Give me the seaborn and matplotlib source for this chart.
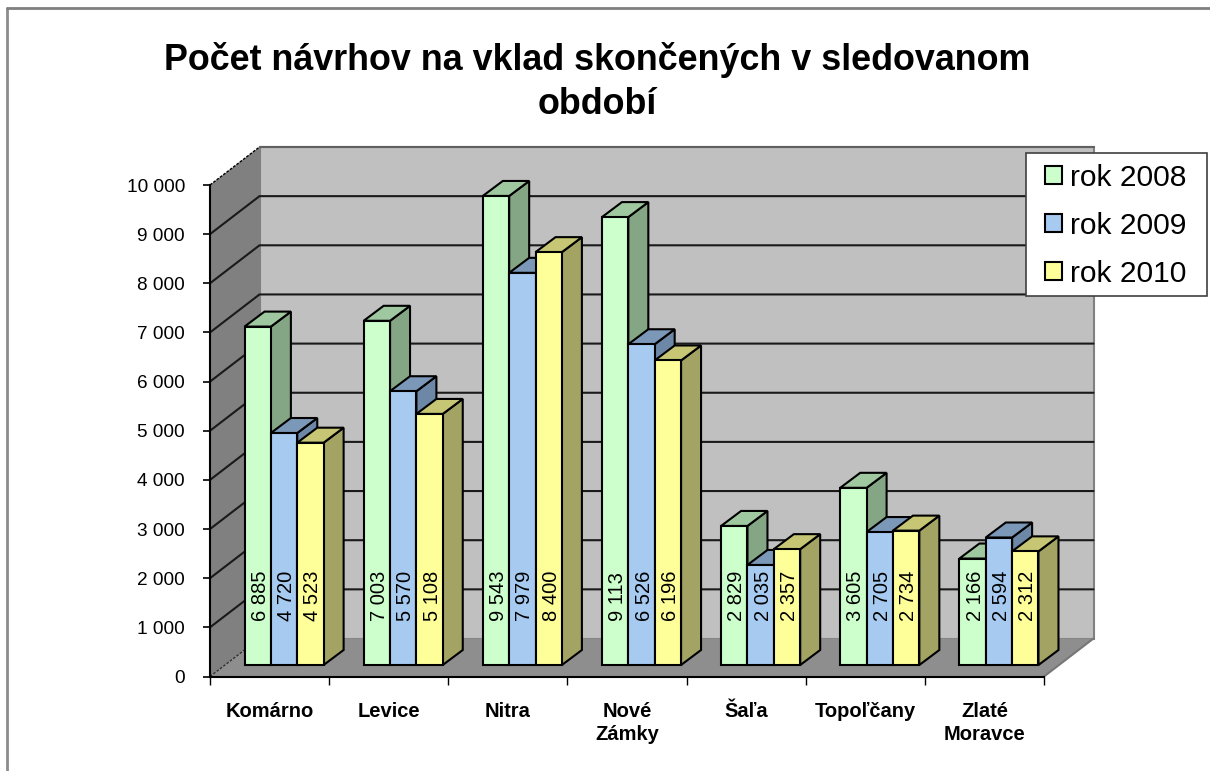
import matplotlib
matplotlib.use("Agg")
import matplotlib.pyplot as plt
from matplotlib.lines import Line2D
from matplotlib.patches import Patch, Polygon, Rectangle
import pandas as pd
import seaborn as sns

# Data
# ---------------------------------------------------------------------------
okresy = ["Komárno", "Levice", "Nitra", "Nové\nZámky", "Šaľa", "Topoľčany", "Zlaté\nMoravce"]
rok_2008 = [6885, 7003, 9543, 9113, 2829, 3605, 2166]
rok_2009 = [4720, 5570, 7979, 6526, 2035, 2705, 2594]
rok_2010 = [4523, 5108, 8400, 6196, 2357, 2734, 2312]
roky = ["rok 2008", "rok 2009", "rok 2010"]
y_ticks = [0, 1000, 2000, 3000, 4000, 5000, 6000, 7000, 8000, 9000, 10000]

FRONT = ["#CCFFCC", "#A6CAF0", "#FFFF99"]
TOP = ["#A0C8A0", "#7C98B8", "#C6C674"]
SIDE = ["#84A684", "#6C88A6", "#A3A364"]


def fmt(v):
    return f"{v:,}".replace(",", " ")


df = pd.DataFrame({
    "okres": okresy * 3,
    "pocet": rok_2008 + rok_2009 + rok_2010,
    "rok": [r for r in roky for _ in okresy],
})

W, H = 1210, 771
sns.set_theme(style="white")
plt.rcParams["font.family"] = ["Liberation Sans", "DejaVu Sans"]
plt.rcParams["text.color"] = "black"
plt.rcParams["xtick.labelcolor"] = "black"
plt.rcParams["ytick.labelcolor"] = "black"

fig = plt.figure(figsize=(W / 100, H / 100), dpi=100, facecolor="white")

# Front plane of the fake 3D box (axis ticks live here)
L, B, AW, AH = 210, 771 - 676.5, 834, 491.5
ax = fig.add_axes([L / W, B / H, AW / W, AH / H], zorder=1)
ax.set_xlim(-0.5, 6.5)
ax.set_ylim(0, 10000)
ax.patch.set_visible(False)

px_x = 7 / AW  # categories per pixel
px_y = 10000 / AH  # value per pixel
wx, wy = 49.5 * px_x, 38 * px_y  # depth of the whole box
x0, x1 = -0.5, 6.5

ax.add_patch(Polygon([(x0 + wx, wy), (x1 + wx, wy), (x1 + wx, 10000 + wy), (x0 + wx, 10000 + wy)],
                     closed=True, fc="#C0C0C0", ec="#808080", lw=1.5, clip_on=False, zorder=1))
ax.add_patch(Polygon([(x0, 0), (x0 + wx, wy), (x0 + wx, 10000 + wy), (x0, 10000)],
                     closed=True, fc="#808080", ec="none", clip_on=False, zorder=1))
ax.add_patch(Polygon([(x0, 0), (x1, 0), (x1 + wx, wy), (x0 + wx, wy)],
                     closed=True, fc="#8E8E8E", ec="none", clip_on=False, zorder=1))

for v in y_ticks[1:-1]:
    ax.plot([x0, x0 + wx, x1 + wx], [v, v + wy, v + wy], color="#1A1A1A", lw=1.5, clip_on=False, zorder=2)
ax.plot([x0 + wx, x1 + wx], [10000 + wy, 10000 + wy], color="#606060", lw=1.5, clip_on=False, zorder=2)
ax.plot([x0, x0 + wx], [10000, 10000 + wy], color="black", lw=1, ls=(0, (2, 1)), clip_on=False, zorder=2)
ax.plot([x0, x0 + wx], [0, wy], color="#333333", lw=1, ls=(0, (2, 1)), clip_on=False, zorder=2)
ax.plot([x1, x1 + wx], [0, wy], color="#777777", lw=1.5, clip_on=False, zorder=2)

for s in ["top", "right"]:
    ax.spines[s].set_visible(False)
for s in ["left", "bottom"]:
    ax.spines[s].set_color("black")
    ax.spines[s].set_linewidth(1.5)
    ax.spines[s].set_zorder(3)

ax.set_yticks(y_ticks)
ax.set_yticklabels([fmt(v) for v in y_ticks], fontsize=13.7)
ax.set_xticks([i - 0.5 for i in range(8)])
ax.set_xticklabels([])
ax.set_xticks(range(7), labels=okresy, minor=True, fontsize=14.5, fontweight="bold", linespacing=1.28)
ax.tick_params(axis="y", length=5, width=1.2, color="black", pad=13, left=True)
ax.tick_params(axis="x", which="major", length=6, width=1, color="black", bottom=True)
ax.tick_params(axis="x", which="minor", length=0, pad=18.5)
ax.set_xlabel("")
ax.set_ylabel("")

# Bars: same scale, moved into the box
bar_ax = fig.add_axes([(L + 14.5) / W, (B + 11.5) / H, AW / W, AH / H], zorder=2)
sns.barplot(data=df, x="okres", y="pocet", hue="rok", palette=FRONT, saturation=1,
            width=79 / 119, gap=0, edgecolor="black", linewidth=1.5, legend=False, ax=bar_ax)
bar_ax.set_xlim(x0, x1)
bar_ax.set_ylim(0, 10000)
bar_ax.axis("off")

dx, dy = 20 * px_x, 15 * px_y
for j, bars in enumerate(bar_ax.containers):
    for rect in bars:
        a = rect.get_x()
        b = a + rect.get_width()
        h = rect.get_height()
        z = 3 + j
        rect.set_zorder(z + 0.5)
        rect.set_clip_on(False)
        bar_ax.add_patch(Polygon([(b, 0), (b + dx, dy), (b + dx, h + dy), (b, h)], closed=True,
                                 fc=SIDE[j], ec="black", lw=1.5, zorder=z, clip_on=False))
        bar_ax.add_patch(Polygon([(a, h), (a + dx, h + dy), (b + dx, h + dy), (b, h)], closed=True,
                                 fc=TOP[j], ec="black", lw=1.5, zorder=z, clip_on=False))
        bar_ax.text((a + b) / 2 + 2.5 * px_x, 1400, fmt(int(h)), rotation=90, ha="center", va="center",
                    fontsize=14.5, color="black", zorder=z + 0.6)

# Legend box is drawn on its own, the pad inside is not the same on all sides
bar_ax.add_patch(Rectangle((1026 / W, 1 - 296 / H), 181 / W, 143 / H, transform=fig.transFigure,
                           fc="white", ec="#404040", lw=1.2, zorder=19, clip_on=False))
handles = [Patch(fc=c, ec="black", lw=1.5) for c in FRONT]
leg = bar_ax.legend(handles, roky, loc="upper left", bbox_to_anchor=(1045 / W, 1 - 163.6 / H),
                    bbox_transform=fig.transFigure, fontsize=21.6, frameon=False, borderaxespad=0,
                    borderpad=0, labelspacing=0.67, handlelength=0.57, handleheight=0.57,
                    handletextpad=0.27)
leg.set_zorder(20)

fig.text(597 / W, 1 - 82 / H, "Počet návrhov na vklad skončených v sledovanom\nobdobí",
         ha="center", va="center", fontsize=25.8, fontweight="bold", color="black", linespacing=1.3)

# Outer frame, only top and left are in the picture
fig.add_artist(Line2D([7 / W, 7 / W], [0, 1 - 8 / H], color="#8C8C8C", lw=2))
fig.add_artist(Line2D([7 / W, 1], [1 - 8 / H, 1 - 8 / H], color="#808080", lw=2))

fig.savefig("out.png", dpi=100)
